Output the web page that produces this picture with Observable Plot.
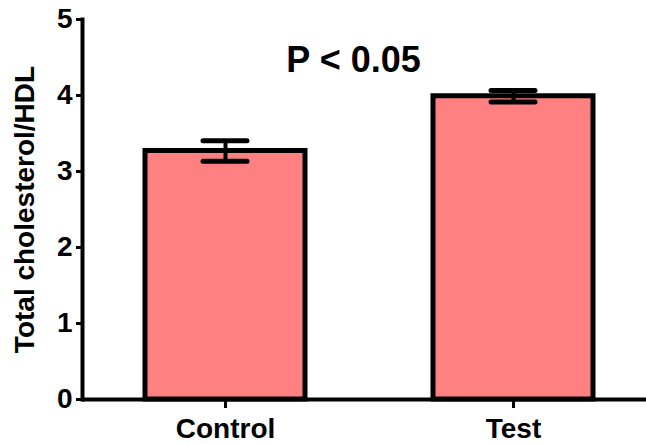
<!DOCTYPE html>
<html>
<head>
<meta charset="utf-8">
<script src="https://cdn.jsdelivr.net/npm/d3@7"></script>
<script src="https://cdn.jsdelivr.net/npm/@observablehq/plot@0.6"></script>
<style>
  html, body { margin: 0; padding: 0; background: #fff; }
  svg { font-family: "Liberation Sans", Arial, sans-serif; }
</style>
</head>
<body>
<div id="chart"></div>
<script>
const groups = ["Control", "Test"];
const means = [3.27, 3.99];
const errors = [0.135, 0.075];
const yTicks = [0, 1, 2, 3, 4, 5];
const yLabel = "Total cholesterol/HDL";
const annotation = "P < 0.05";

const data = groups.map((g, i) => ({
  group: g,
  mean: means[i],
  lo: means[i] - errors[i],
  hi: means[i] + errors[i]
}));

const chart = Plot.plot({
  width: 646,
  height: 444,
  marginLeft: 82,
  marginRight: 0,
  marginTop: 19,
  marginBottom: 45,
  style: { fontFamily: "'Liberation Sans', Arial, sans-serif", background: "#fff" },
  x: { domain: groups, paddingInner: 0.444, paddingOuter: 0.201, align: 0.543 },
  y: { domain: [0, 5] },
  marks: [
    Plot.barY(data, { x: "group", y: "mean", fill: "#ff8080", stroke: "#000", strokeWidth: 5 }),
    Plot.ruleX(data, { x: "group", y1: "lo", y2: "hi", stroke: "#000", strokeWidth: 4 }),
    Plot.tickY(data, { x: "group", y: "lo", stroke: "#000", strokeWidth: 5, strokeLinecap: "round", inset: 58 }),
    Plot.tickY(data, { x: "group", y: "hi", stroke: "#000", strokeWidth: 5, strokeLinecap: "round", inset: 58 }),
    Plot.ruleY([0], { stroke: "#000", strokeWidth: 4 }),
    Plot.frame({ anchor: "left", stroke: "#000", strokeWidth: 4 }),
    Plot.axisY({
      ticks: yTicks, tickSize: 6, tickPadding: 4, strokeWidth: 3,
      fontSize: 28, fontWeight: "bold", tickFormat: d3.format("d"),
      label: yLabel, labelAnchor: "center", labelArrow: "none", labelOffset: 68
    }),
    Plot.axisX({
      tickSize: 9, tickPadding: 10, strokeWidth: 3,
      fontSize: 28, fontWeight: "bold", label: null
    }),
    Plot.text([annotation], {
      text: d => d, frameAnchor: "top", lineAnchor: "top",
      dx: -11, dy: 27, fontSize: 36, fontWeight: "bold", fill: "#000"
    })
  ]
});
document.getElementById("chart").appendChild(chart);
</script>
</body>
</html>
